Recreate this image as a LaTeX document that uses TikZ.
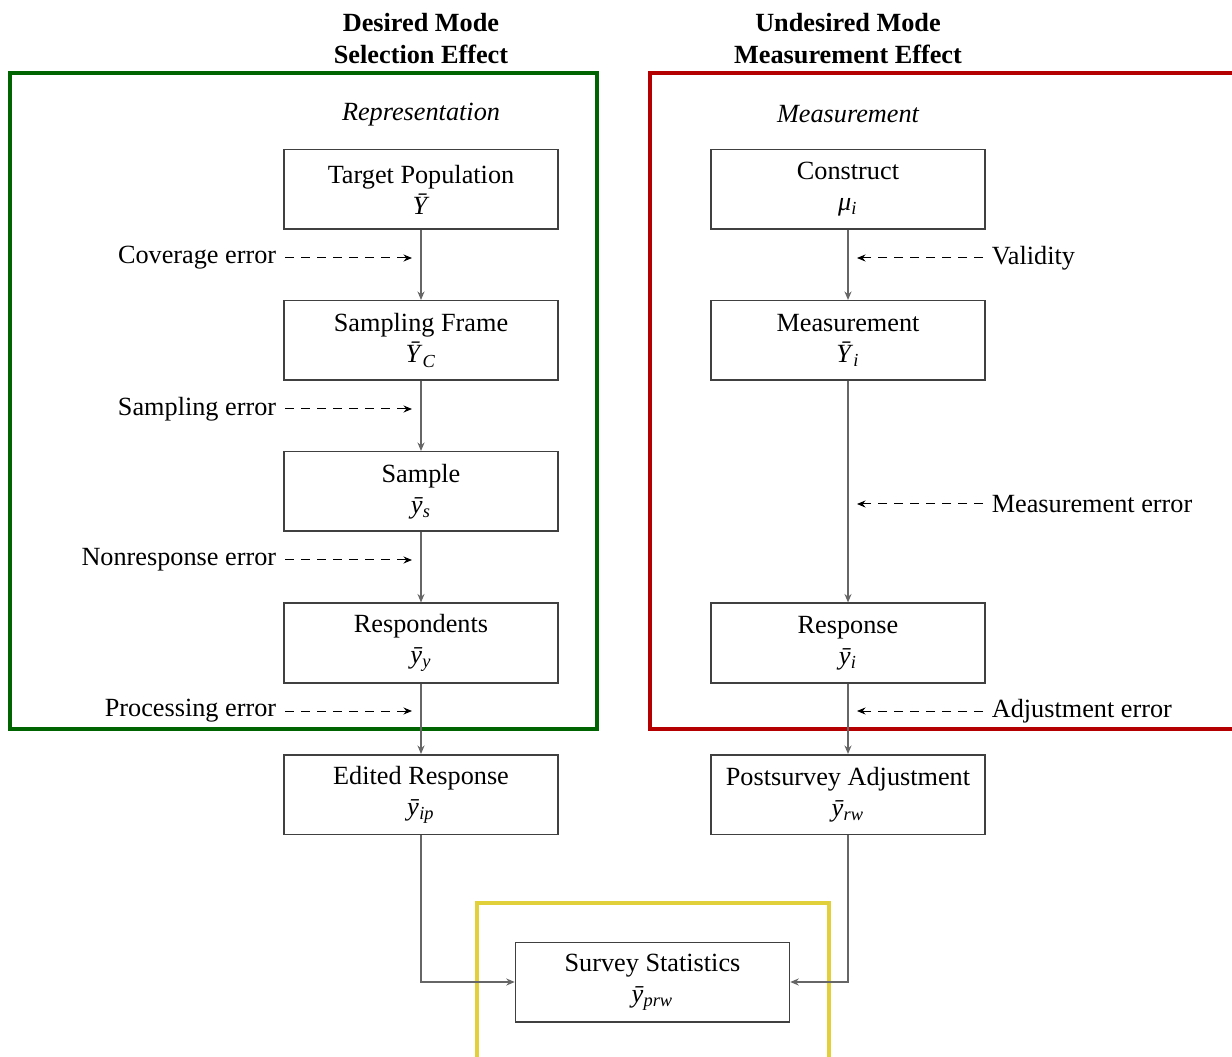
\documentclass[tikz,border=0pt]{standalone}
\usepackage{fontspec}
\setmainfont{Liberation Serif}
\usetikzlibrary{arrows.meta}
\definecolor{gbox}{RGB}{0,100,0}
\definecolor{rbox}{RGB}{180,0,0}
\definecolor{ybox}{RGB}{226,208,58}
\newcommand\mv[2]{\textit{#1}\textsubscript{\textit{#2}}}
\begin{document}
\begin{tikzpicture}[x=0.4pt,y=-0.4pt,
  font=\fontsize{10.5}{12.4}\selectfont,
  stage/.style={draw=black!75, line width=0.6pt, minimum width=109.6pt, minimum height=31.8pt, align=center, inner sep=0pt},
  flow/.style={draw=black!60, line width=0.6pt, -{Stealth[length=3.4pt,width=2.8pt]}},
  err/.style={draw=black, line width=0.4pt, dash pattern=on 3.5pt off 2.9pt, -{Stealth[length=3.4pt,width=2.8pt]}},
  frame/.style={line width=1.7pt},
  head/.style={font=\fontsize{10.5}{12.8}\selectfont\bfseries, align=center},
  sect/.style={font=\fontsize{10.5}{12.4}\selectfont\itshape}]
\clip (0,0) rectangle (1232,1057);
% frames
\draw[frame, gbox] (10,73) rectangle (597,729);
\draw[frame, rbox] (650,73) rectangle (1260,729);
\draw[frame, ybox] (477,903) rectangle (829,1090);
% headers
\node[head] (h1) at (421,39) {Desired Mode\\Selection Effect};
\node[head] (h2) at (848,39) {Undesired Mode\\Measurement Effect};
\node[sect] (s1) at (421,115) {Representation};
\node[sect] (s2) at (848,114) {Measurement};
% left column
\node[stage] (tp) at (421,189.5) {Target Population\\\textit{\=Y}};
\node[stage] (sf) at (421,340.5) {Sampling Frame\\\mv{\=Y}{C}};
\node[stage] (sa) at (421,491.5) {Sample\\\mv{\=y}{s}};
\node[stage] (re) at (421,643) {Respondents\\\mv{\=y}{y}};
\node[stage] (ed) at (421,794.5) {Edited Response\\\mv{\=y}{ip}};
% right column
\node[stage] (co) at (848,189.5) {Construct\\\mv{μ}{i}};
\node[stage] (me) at (848,340.5) {Measurement\\\mv{\=Y}{i}};
\node[stage] (rs) at (848,643) {Response\\\mv{\=y}{i}};
\node[stage] (pa) at (848,794.5) {Postsurvey Adjustment\\\mv{\=y}{rw}};
% bottom
\node[stage] (ss) at (652.5,982) {Survey Statistics\\\mv{\=y}{prw}};
% flows
\draw[flow] (tp) -- (sf);
\draw[flow] (sf) -- (sa);
\draw[flow] (sa) -- (re);
\draw[flow] (re) -- (ed);
\draw[flow] (co) -- (me);
\draw[flow] (me) -- (rs);
\draw[flow] (rs) -- (pa);
\draw[flow] (ed.south) |- (ss.west);
\draw[flow] (pa.south) |- (ss.east);
% error labels left
\node[anchor=east] (l1) at (285,258) {Coverage error};
\node[anchor=east] (l2) at (285,409) {Sampling error};
\node[anchor=east] (l3) at (285,560) {Nonresponse error};
\node[anchor=east] (l4) at (285,711) {Processing error};
\coordinate (c1) at (412,258);
\coordinate (c2) at (412,409);
\coordinate (c3) at (412,560);
\coordinate (c4) at (412,711);
\draw[err] (l1.east) -- (c1);
\draw[err] (l2.east) -- (c2);
\draw[err] (l3.east) -- (c3);
\draw[err] (l4.east) -- (c4);
% error labels right
\node[anchor=west] (r1) at (983,258) {Validity};
\node[anchor=west] (r2) at (983,504) {Measurement error};
\node[anchor=west] (r3) at (983,711) {Adjustment error};
\coordinate (d1) at (857,258);
\coordinate (d2) at (857,504);
\coordinate (d3) at (857,711);
\draw[err] (r1.west) -- (d1);
\draw[err] (r2.west) -- (d2);
\draw[err] (r3.west) -- (d3);
\end{tikzpicture}
\end{document}
